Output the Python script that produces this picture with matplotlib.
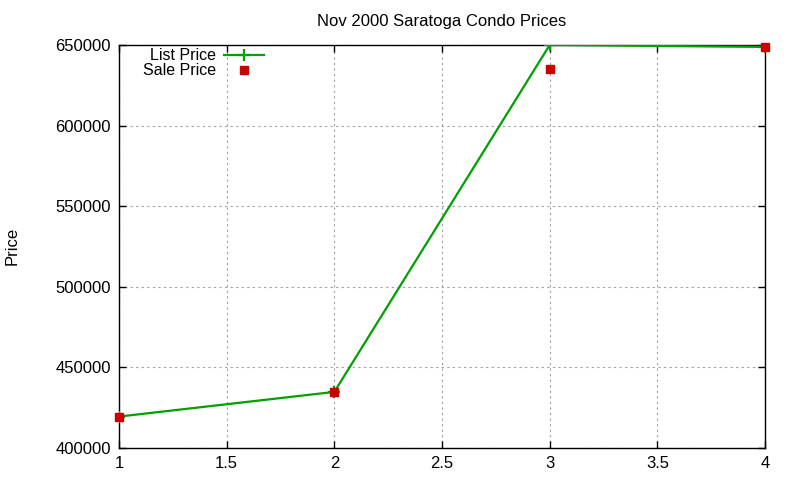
import matplotlib
matplotlib.use("Agg")
import matplotlib.pyplot as plt

# data
x_vals = [1, 2, 3, 4]
list_price = [419500, 434800, 650000, 648800]
sale_price = [419500, 434800, 635300, 648500]
x_ticks = [1, 1.5, 2, 2.5, 3, 3.5, 4]
y_ticks = [400000, 450000, 500000, 550000, 600000, 650000]

plt.rcParams["font.family"] = ["Liberation Sans", "DejaVu Sans"]
plt.rcParams["font.size"] = 12

fig = plt.figure(figsize=(8, 4.8), dpi=100)
ax = fig.add_axes([119 / 800, 1 - 448 / 480, (765 - 119) / 800, (448 - 45) / 480])

ax.plot(x_vals, list_price, color="#00a000", linewidth=1.6, marker="+",
        markersize=9, markeredgewidth=1.6, label="List Price", zorder=3)
ax.plot(x_vals, sale_price, color="#cc0000", linestyle="none", marker="s",
        markersize=5.5, label="Sale Price", zorder=4, clip_on=False)

ax.set_xlim(1, 4)
ax.set_ylim(400000, 650000)
ax.set_xticks(x_ticks)
ax.set_xticklabels(["1", "1.5", "2", "2.5", "3", "3.5", "4"])
ax.set_yticks(y_ticks)
ax.set_yticklabels([str(v) for v in y_ticks])
ax.tick_params(direction="in", top=True, right=True, length=5, width=1, pad=6)
ax.grid(True, color="#a0a0a0", linestyle=(0, (2, 3)), linewidth=0.8)
for s in ax.spines.values():
    s.set_linewidth(1)
    s.set_color("black")

ax.set_title("Nov 2000 Saratoga Condo Prices", fontsize=12, pad=14)
fig.text(12 / 800, 1 - 246 / 480, "Price", rotation=90, ha="center", va="center")

ax.legend(loc="upper left", bbox_to_anchor=(0.02, 1.02), frameon=False,
          markerfirst=False, handlelength=2.5, handletextpad=0.5,
          labelspacing=0.0, borderaxespad=0.3, fontsize=11.5)

fig.savefig("out.png", dpi=100)
